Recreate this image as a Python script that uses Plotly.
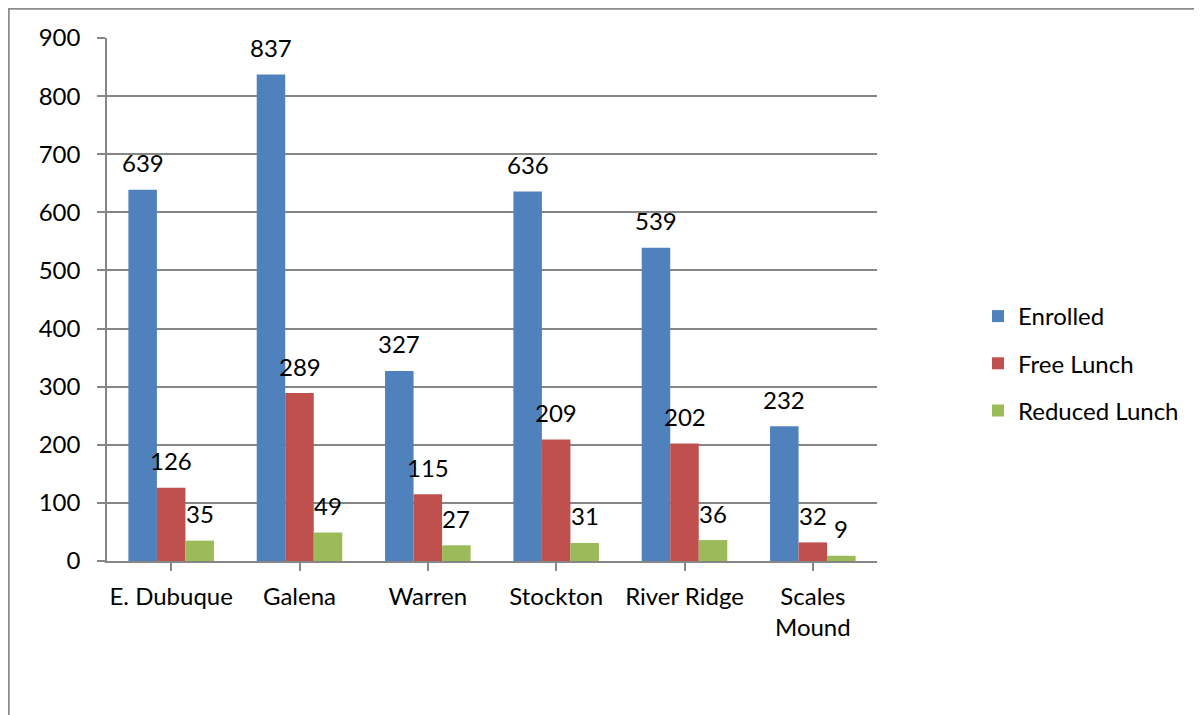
import plotly.graph_objects as go

categories = ["E. Dubuque", "Galena", "Warren", "Stockton", "River Ridge", "Scales<br>Mound"]
enrolled = [639, 837, 327, 636, 539, 232]
free_lunch = [126, 289, 115, 209, 202, 32]
reduced_lunch = [35, 49, 27, 31, 36, 9]
series_names = ["Enrolled", "Free Lunch", "Reduced Lunch"]
colors = ["#4F81BD", "#C0504D", "#9BBB59"]
y_ticks = [0, 100, 200, 300, 400, 500, 600, 700, 800, 900]

FONT = "Lato"
FS = 24
W, H = 1202, 715
OFF = 8  # page body margin
L, T = 107 - OFF, 38 - OFF
PW, PH = 770, 523
R = W - L - PW
B = H - T - PH
BARGAP = 1 / 3

fig = go.Figure()
series = [enrolled, free_lunch, reduced_lunch]
for k, (name, vals, col) in enumerate(zip(series_names, series, colors)):
    fig.add_trace(go.Bar(
        x=list(range(len(categories))), y=vals, name=name,
        marker=dict(color=col, line=dict(width=0)),
        legendgroup=name, hoverinfo="y",
    ))

# data labels above each bar
n = len(series)
bw = (1 - BARGAP) / n
for k, vals in enumerate(series):
    off = -(1 - BARGAP) / 2 + bw * (k + 0.5)
    for i, v in enumerate(vals):
        fig.add_annotation(x=i + off, y=v, text=str(v), showarrow=False,
                           xref="x", yref="y", yanchor="middle", yshift=27,
                           font=dict(family=FONT, size=FS, color="#000"))

def px2x(p):
    return (p - OFF - L) / PW
def py2y(p):
    return (H - B - (p - OFF)) / PH

# outer chart border (extends beyond right/bottom edges)
fig.add_shape(type="rect", xref="paper", yref="paper",
              x0=px2x(8.5), x1=px2x(W + 40), y0=py2y(H + 40), y1=py2y(8.5),
              line=dict(color="#8C8C8C", width=2.5), fillcolor="rgba(0,0,0,0)", layer="below")

fig.update_layout(
    width=W, height=H,
    margin=dict(l=L, r=R, t=T, b=B, autoexpand=False),
    paper_bgcolor="white", plot_bgcolor="white",
    barmode="group", bargap=BARGAP, bargroupgap=0,
    font=dict(family=FONT, size=FS, color="#000"),
    showlegend=True,
    legend=dict(x=px2x(978), y=py2y(294), xanchor="left", yanchor="top",
                font=dict(family=FONT, size=FS, color="#000"),
                tracegroupgap=13, itemwidth=30, bgcolor="rgba(0,0,0,0)"),
    xaxis=dict(
        tickmode="array", tickvals=list(range(len(categories))), ticktext=categories,
        range=[-0.5, len(categories) - 0.5],
        showline=True, linecolor="#868686", linewidth=1.5,
        ticks="outside", ticklen=8, tickcolor="#868686", tickwidth=1.5,
        showgrid=False, zeroline=False, ticklabelstandoff=5,
        tickfont=dict(family=FONT, size=FS, color="#000"),
    ),
    yaxis=dict(
        range=[0, 900], tickmode="array", tickvals=y_ticks,
        showline=True, linecolor="#868686", linewidth=1.5,
        ticks="outside", ticklen=8, tickcolor="#868686", tickwidth=1.5,
        showgrid=True, gridcolor="#868686", gridwidth=1.5,
        zeroline=False, ticklabelstandoff=12,
        tickfont=dict(family=FONT, size=FS, color="#000"),
    ),
)

fig.update_xaxes(tickson="boundaries")

fig.write_html("out.html")
